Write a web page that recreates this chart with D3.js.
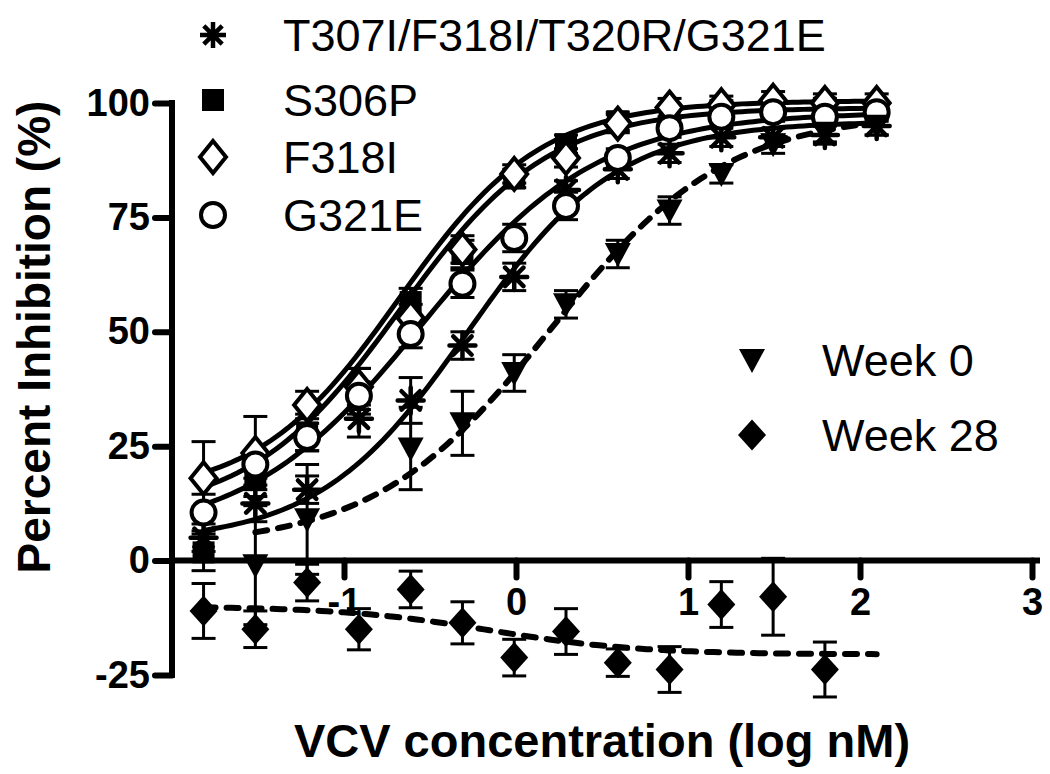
<html lang="en">
<head>
  <meta http-equiv="Content-Type" content="text/html; charset=UTF-8">
  <title>VCV inhibition</title>
  <script type="text/javascript" src="https://cdn.jsdelivr.net/npm/d3@7"></script>
  <style type="text/css">
    body { margin: 0; background: #fff; }
    text { font-family: "Liberation Sans", Arial, sans-serif; }
  </style>
</head>
<body>
  <script type="text/javascript">
    // log10 of VCV concentration (nM), 2-fold dilutions from 125 nM
    var logConc = [-1.8165, -1.5154, -1.2144, -0.9134, -0.6124, -0.3113, -0.0103,
                   0.2907, 0.5918, 0.8928, 1.1938, 1.4949, 1.7959, 2.0969];

    var xTicks = [-1, 0, 1, 2, 3];
    var yTicks = [-25, 0, 25, 50, 75, 100];

    var seriesNames = ["T307I/F318I/T320R/G321E", "S306P", "F318I", "G321E", "Week 0", "Week 28"];

    // percent inhibition (null = no point)
    var quadMut = [5, 12.5, 15.5, 31, 35, 47, 62, 81, 85.5, 89, 92.5, 92.5, 93, 95];
    var quadMutErr = [3, 4, 3, 4, 5, 3, 3, 2, 2, 2, 2, 2, 2, 2];
    var s306p = [1.8, 18, 28, 37, 56.5, 67, 83.5, 91, 96, 97.5, 98.5, 99, 99, 98.5];
    var s306pErr = [4, 4, 4, 5, 3, 3, 2, 2, 2, 2, 2, 2, 2, 2];
    var f318i = [18, 23.5, 34, 38, 53, 68, 84.5, 88, 95.5, 99, 99.5, 100.5, 100, 100];
    var f318iErr = [8, 8, 3, 4, 3, 3, 2, 2, 2, 2, 2, 2, 2, 2];
    var g321e = [10.5, 21, 27, 36, 49.5, 60.5, 70.5, 77.5, 88, 94.5, 97, 98, 97, 98];
    var g321eErr = [4, 3, 3, 3, 3, 3, 3, 3, 2, 2, 2, 2, 2, 2];
    var week0 = [null, -1, 9, null, 24.5, 30, 41, 56, 67, 76.5, 84.5, 91, 93.5, 95];
    var week0Err = [0, 13, 12, 0, 9, 7, 4, 3, 3, 3, 2, 2, 2, 2];
    var week28 = [-11, -15, -4.8, -15, -6.3, -13.6, -21.2, -15.5, -22.3, -23.8, -9.6, -7.9, -23.8, null];
    var week28Err = [6, 4, 4, 4.5, 4, 4.6, 4, 5, 3, 5, 5, 8.4, 6, 0];

    // sigmoidal fits: bottom, top, logEC50, hill slope, first point index
    var fitQuadMut = [4, 96, -0.28, 1.0, 0];
    var fitS306p = [10, 99, -0.68, 1.0, 0];
    var fitF318i = [14, 100.5, -0.68, 1.05, 0];
    var fitG321e = [5, 98, -0.55, 0.85, 0];
    var fitWeek0 = [3, 98, 0.2, 0.85, 1];
    var fitWeek28 = [-10, -20.5, -0.15, 1.0, 0];

    var svg = d3.select("body").append("svg").attr("width", 1050).attr("height", 774);

    var x = d3.scaleLinear().domain([-2, 3]).range([172, 1032]);
    var y = d3.scaleLinear().domain([-25, 100]).range([675, 103]);

    function logistic(p, v) {
      return p[0] + (p[1] - p[0]) / (1 + Math.pow(10, (p[2] - v) * p[3]));
    }

    function curvePoints(p) {
      var lo = logConc[p[4]], hi = logConc[logConc.length - 1];
      return d3.range(0, 121).map(function(i) {
        var v = lo + (hi - lo) * i / 120;
        return [v, logistic(p, v)];
      });
    }

    var line = d3.line()
      .x(function(d) { return x(d[0]); })
      .y(function(d) { return y(d[1]); });

    // marker shapes
    function asterisk(r) {
      var s = "";
      for (var k = 0; k < 4; k++) {
        var a = k * Math.PI / 4;
        var dx = r * Math.sin(a), dy = r * Math.cos(a);
        s += "M" + (-dx) + "," + (-dy) + "L" + dx + "," + dy;
      }
      return s;
    }
    function diamond(w, h) {
      return "M0," + (-h) + "L" + w + ",0L0," + h + "L" + (-w) + ",0Z";
    }
    function square(h) {
      return "M" + (-h) + "," + (-h) + "h" + (2 * h) + "v" + (2 * h) + "h" + (-2 * h) + "Z";
    }
    function triangleDown(w) {
      return "M" + (-w) + "," + (-w * 0.85) + "L" + w + "," + (-w * 0.85) + "L0," + (w * 1.0) + "Z";
    }
    function circle(r) {
      return d3.arc()({ innerRadius: 0, outerRadius: r, startAngle: 0, endAngle: 2 * Math.PI });
    }

    var series = [
      { name: seriesNames[0], values: quadMut, err: quadMutErr, fit: fitQuadMut, dash: null,
        path: asterisk(13), fill: "none", stroke: "#000", sw: 4.5 },
      { name: seriesNames[1], values: s306p, err: s306pErr, fit: fitS306p, dash: null,
        path: square(11), fill: "#000", stroke: "none", sw: 0 },
      { name: seriesNames[2], values: f318i, err: f318iErr, fit: fitF318i, dash: null,
        path: diamond(13, 16), fill: "#fff", stroke: "#000", sw: 4 },
      { name: seriesNames[3], values: g321e, err: g321eErr, fit: fitG321e, dash: null,
        path: circle(12), fill: "#fff", stroke: "#000", sw: 4 },
      { name: seriesNames[4], values: week0, err: week0Err, fit: fitWeek0, dash: "12,11",
        path: triangleDown(13), fill: "#000", stroke: "none", sw: 0 },
      { name: seriesNames[5], values: week28, err: week28Err, fit: fitWeek28, dash: "12,11",
        path: diamond(14, 15.5), fill: "#000", stroke: "none", sw: 0 }
    ];

    // fitted curves
    series.forEach(function(s) {
      svg.append("path")
        .attr("d", line(curvePoints(s.fit)))
        .attr("fill", "none")
        .attr("stroke", "#000")
        .attr("stroke-width", s.dash ? 6 : 5)
        .attr("stroke-linecap", "round")
        .attr("stroke-dasharray", s.dash);
    });

    // error bars
    series.forEach(function(s) {
      var pts = logConc.map(function(c, i) { return { c: c, v: s.values[i], e: s.err[i] }; })
        .filter(function(d) { return d.v !== null && d.e > 0; });
      var g = svg.append("g").attr("stroke", "#000").attr("stroke-width", 3);
      g.selectAll("line.v").data(pts).enter().append("line")
        .attr("x1", function(d) { return x(d.c); })
        .attr("x2", function(d) { return x(d.c); })
        .attr("y1", function(d) { return y(d.v - d.e); })
        .attr("y2", function(d) { return y(d.v + d.e); });
      [-1, 1].forEach(function(sign) {
        g.selectAll("line.cap" + sign).data(pts).enter().append("line")
          .attr("x1", function(d) { return x(d.c) - 12; })
          .attr("x2", function(d) { return x(d.c) + 12; })
          .attr("y1", function(d) { return y(d.v + sign * d.e); })
          .attr("y2", function(d) { return y(d.v + sign * d.e); });
      });
    });

    // markers
    series.forEach(function(s) {
      var pts = logConc.map(function(c, i) { return { c: c, v: s.values[i] }; })
        .filter(function(d) { return d.v !== null; });
      svg.append("g").selectAll("path").data(pts).enter().append("path")
        .attr("d", s.path)
        .attr("transform", function(d) { return "translate(" + x(d.c) + "," + y(d.v) + ")"; })
        .attr("fill", s.fill)
        .attr("stroke", s.stroke)
        .attr("stroke-width", s.sw)
        .attr("stroke-linecap", "round");
    });

    // axes
    var fmt = function(d) { return String(d); };
    var xAxis = svg.append("g")
      .attr("transform", "translate(0," + y(0) + ")")
      .call(d3.axisBottom(x).tickValues(xTicks).tickFormat(fmt).tickSize(17).tickPadding(10).tickSizeOuter(0));
    var yAxis = svg.append("g")
      .attr("transform", "translate(" + x(-2) + ",0)")
      .call(d3.axisLeft(y).tickValues(yTicks).tickFormat(fmt).tickSize(17).tickPadding(5).tickSizeOuter(0));

    [xAxis, yAxis].forEach(function(a) {
      a.select(".domain").attr("stroke-width", 6).attr("stroke", "#000");
      a.selectAll(".tick line").attr("stroke-width", 6).attr("stroke", "#000").attr("stroke-linecap", "round");
      a.selectAll(".tick text")
        .attr("fill", "#000")
        .style("font-family", "'Liberation Sans', Arial, sans-serif")
        .style("font-weight", "bold")
        .style("font-size", "38px");
    });
    xAxis.select(".domain").attr("d", "M" + (x(-2) - 3) + ",0H" + (x(3) + 8));
    yAxis.select(".domain").attr("d", "M0," + (y(100) - 3) + "V" + (y(-25) + 3));

    // axis titles
    svg.append("text")
      .attr("x", 602).attr("y", 757)
      .attr("text-anchor", "middle")
      .style("font-weight", "bold").style("font-size", "47px")
      .text("VCV concentration (log nM)");
    svg.append("text")
      .attr("transform", "translate(50,337) rotate(-90)")
      .attr("text-anchor", "middle")
      .style("font-weight", "bold").style("font-size", "46px")
      .text("Percent Inhibition (%)");

    // legends
    var legendTop = [
      { s: series[0], y: 35 }, { s: series[1], y: 100 }, { s: series[2], y: 157 }, { s: series[3], y: 215 }
    ];
    var legendRight = [{ s: series[4], y: 360 }, { s: series[5], y: 435 }];

    function drawLegend(items, sx, tx) {
      items.forEach(function(it) {
        svg.append("path")
          .attr("d", it.s.path)
          .attr("transform", "translate(" + sx + "," + it.y + ")")
          .attr("fill", it.s.fill)
          .attr("stroke", it.s.stroke)
          .attr("stroke-width", it.s.sw);
        svg.append("text")
          .attr("x", tx).attr("y", it.y + 16)
          .style("font-size", "45px")
          .text(it.s.name);
      });
    }
    drawLegend(legendTop, 213, 283);
    drawLegend(legendRight, 752, 822);
  </script>
</body>
</html>
